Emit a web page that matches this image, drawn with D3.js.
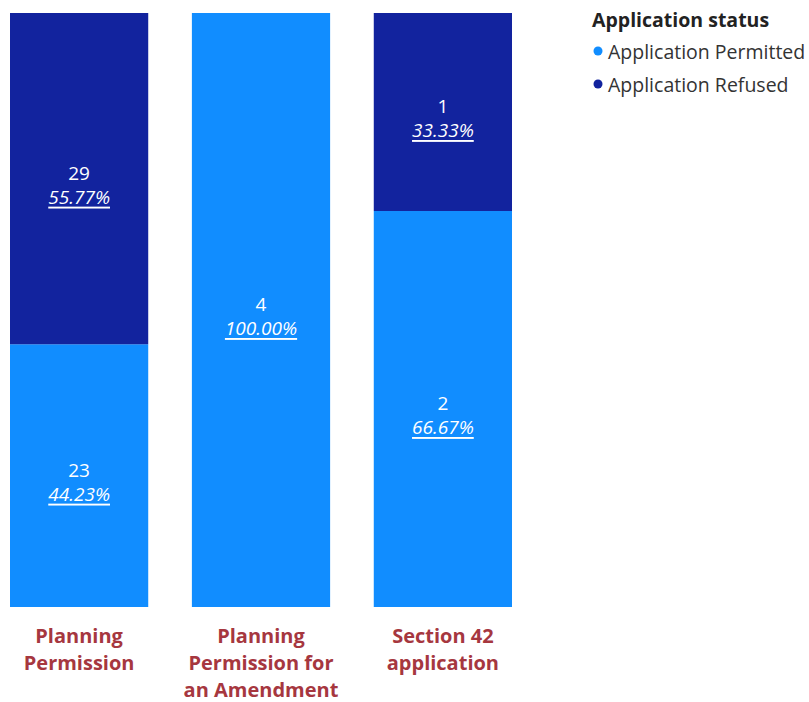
<!DOCTYPE html>
<html>
<head>
<meta charset="utf-8">
<script src="https://cdn.jsdelivr.net/npm/d3@7.9.0/dist/d3.min.js"></script>
<style>
  body { margin: 0; background: #fff; }
  svg { display: block; font-family: "Open Sans", "Noto Sans", sans-serif; }
</style>
</head>
<body>
<svg id="chart" width="809" height="702"></svg>
<script>
// categories (each line of a label is one entry)
const categories = [
  ['Planning', 'Permission'],
  ['Planning', 'Permission for', 'an Amendment'],
  ['Section 42', 'application']
];
const statuses = ['Application Permitted', 'Application Refused'];
const permitted = [23, 4, 2];
const refused = [29, 0, 1];
const colors = ['#118DFF', '#12239E'];

const svg = d3.select('#chart');

const keys = categories.map(c => c.join(' '));
const rows = keys.map((k, i) => ({
  key: k,
  'Application Permitted': permitted[i],
  'Application Refused': refused[i],
  total: permitted[i] + refused[i]
}));

const x = d3.scaleBand().domain(keys).range([10, 512]).paddingInner(0.24).paddingOuter(0);
const y = d3.scaleLinear().domain([0, 1]).range([607, 13]);
const color = d3.scaleOrdinal().domain(statuses).range(colors);

// stack as shares of each bar's total
const stack = d3.stack()
  .keys(statuses)
  .value((d, key) => d[key] / d.total);
const series = stack(rows);

const groups = svg.append('g')
  .selectAll('g')
  .data(series)
  .join('g')
  .attr('fill', s => color(s.key));

groups.selectAll('rect')
  .data(s => s.map(d => Object.assign(d, { status: s.key })))
  .join('rect')
  .attr('x', d => x(d.data.key))
  .attr('width', x.bandwidth())
  .attr('y', d => y(d[1]))
  .attr('height', d => y(d[0]) - y(d[1]));

// value labels
const labels = svg.append('g')
  .selectAll('g')
  .data(series.flat().filter(d => d.data[d.status] > 0))
  .join('g')
  .attr('transform', d => `translate(${x(d.data.key) + x.bandwidth() / 2},${(y(d[0]) + y(d[1])) / 2})`)
  .attr('fill', '#fff')
  .attr('text-anchor', 'middle')
  .style('font-size', '19px');

labels.append('text')
  .attr('y', -6)
  .attr('dominant-baseline', 'central')
  .text(d => d.data[d.status]);

labels.append('text')
  .attr('y', 18)
  .attr('dominant-baseline', 'central')
  .style('font-style', 'italic')
  .style('text-decoration', 'underline')
  .text(d => d3.format('.2%')(d.data[d.status] / d.data.total));

// category axis labels
svg.append('g')
  .selectAll('text')
  .data(categories)
  .join('text')
  .attr('x', (d, i) => x(keys[i]) + x.bandwidth() / 2)
  .attr('y', 636)
  .attr('text-anchor', 'middle')
  .attr('fill', '#A6373F')
  .style('font-size', '20px')
  .style('font-weight', 'bold')
  .selectAll('tspan')
  .data(d => d)
  .join('tspan')
  .attr('x', function () { return this.parentNode.getAttribute('x'); })
  .attr('dy', (d, i) => i === 0 ? '0.35em' : 27)
  .text(d => d);

// legend
const legend = svg.append('g').attr('transform', 'translate(592,0)');
legend.append('text')
  .attr('x', 0)
  .attr('y', 19)
  .attr('dominant-baseline', 'central')
  .attr('fill', '#222')
  .style('font-size', '19.5px')
  .style('font-weight', 'bold')
  .text('Application status');

const items = legend.selectAll('g.item')
  .data(statuses)
  .join('g')
  .attr('class', 'item')
  .attr('transform', (d, i) => `translate(0,${51 + i * 33})`);
items.append('circle')
  .attr('cx', 6)
  .attr('r', 4.5)
  .attr('fill', d => color(d));
items.append('text')
  .attr('x', 16)
  .attr('dominant-baseline', 'central')
  .attr('fill', '#333')
  .style('font-size', '19.5px')
  .text(d => d);
</script>
</body>
</html>
